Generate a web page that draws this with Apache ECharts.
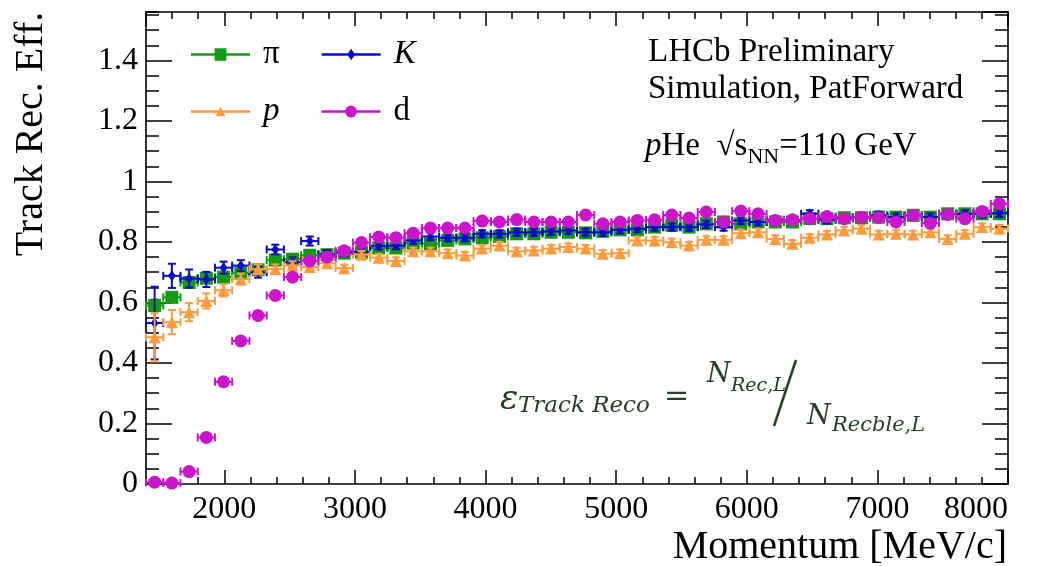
<!DOCTYPE html>
<html>
<head>
<meta charset="utf-8">
<script src="https://cdn.jsdelivr.net/npm/echarts@6/dist/echarts.min.js"></script>
<style>
  html, body { margin: 0; padding: 0; background: #fff; }
  #chart { width: 1045px; height: 566px; }
</style>
</head>
<body>
<div id="chart"></div>
<script>
// momentum bin centres [MeV/c], bins of 132 MeV/c from 1400 to 8000
const momentum = [1466, 1598, 1730, 1862, 1994, 2126, 2258, 2390, 2522, 2654,
  2786, 2918, 3050, 3182, 3314, 3446, 3578, 3710, 3842, 3974,
  4106, 4238, 4370, 4502, 4634, 4766, 4898, 5030, 5162, 5294,
  5426, 5558, 5690, 5822, 5954, 6086, 6218, 6350, 6482, 6614,
  6746, 6878, 7010, 7142, 7274, 7406, 7538, 7670, 7802, 7934];
const binHalfWidth = 66;

// pi
const effPi = [0.590, 0.617, 0.666, 0.680, 0.684, 0.698, 0.708, 0.740, 0.743, 0.756,
  0.758, 0.763, 0.766, 0.780, 0.780, 0.796, 0.794, 0.805, 0.810, 0.814,
  0.818, 0.827, 0.827, 0.832, 0.832, 0.830, 0.835, 0.840, 0.840, 0.849,
  0.855, 0.849, 0.860, 0.866, 0.860, 0.866, 0.866, 0.866, 0.877, 0.877,
  0.880, 0.880, 0.882, 0.882, 0.888, 0.882, 0.893, 0.893, 0.893, 0.893];
const errPi = [0.020, 0.015, 0.012, 0.012, 0.011, 0.010, 0.010, 0.010, 0.010, 0.010,
  0.010, 0.010, 0.010, 0.010, 0.010, 0.010, 0.010, 0.010, 0.010, 0.010,
  0.010, 0.010, 0.010, 0.010, 0.010, 0.010, 0.010, 0.010, 0.010, 0.010,
  0.010, 0.010, 0.010, 0.010, 0.010, 0.010, 0.010, 0.010, 0.010, 0.010,
  0.010, 0.010, 0.010, 0.010, 0.010, 0.010, 0.010, 0.010, 0.010, 0.010];

// K
const effK = [0.532, 0.688, 0.679, 0.676, 0.715, 0.722, 0.700, 0.775, 0.733, 0.803,
  0.759, 0.766, 0.768, 0.787, 0.788, 0.805, 0.818, 0.814, 0.814, 0.827,
  0.827, 0.832, 0.832, 0.835, 0.838, 0.832, 0.832, 0.840, 0.844, 0.849,
  0.849, 0.849, 0.858, 0.849, 0.871, 0.866, 0.873, 0.873, 0.893, 0.873,
  0.880, 0.882, 0.888, 0.882, 0.888, 0.882, 0.893, 0.893, 0.893, 0.895];
const errK = [0.120, 0.040, 0.030, 0.025, 0.020, 0.018, 0.018, 0.016, 0.016, 0.015,
  0.014, 0.013, 0.013, 0.012, 0.012, 0.012, 0.012, 0.012, 0.012, 0.012,
  0.012, 0.012, 0.012, 0.012, 0.012, 0.012, 0.012, 0.012, 0.012, 0.012,
  0.012, 0.012, 0.012, 0.012, 0.012, 0.012, 0.012, 0.012, 0.012, 0.012,
  0.012, 0.012, 0.012, 0.012, 0.012, 0.012, 0.012, 0.012, 0.012, 0.012];

// p
const effP = [0.485, 0.535, 0.568, 0.605, 0.640, 0.677, 0.710, 0.711, 0.722, 0.717,
  0.730, 0.713, 0.758, 0.748, 0.737, 0.769, 0.769, 0.763, 0.755, 0.778,
  0.788, 0.769, 0.772, 0.778, 0.783, 0.778, 0.761, 0.763, 0.805, 0.805,
  0.799, 0.788, 0.807, 0.807, 0.829, 0.832, 0.810, 0.794, 0.814, 0.825,
  0.838, 0.844, 0.825, 0.827, 0.825, 0.832, 0.810, 0.827, 0.849, 0.844];
const errP = [0.080, 0.040, 0.030, 0.025, 0.020, 0.018, 0.016, 0.015, 0.014, 0.013,
  0.013, 0.012, 0.012, 0.012, 0.012, 0.012, 0.012, 0.012, 0.012, 0.012,
  0.012, 0.012, 0.012, 0.012, 0.012, 0.012, 0.012, 0.012, 0.012, 0.012,
  0.012, 0.012, 0.012, 0.012, 0.012, 0.012, 0.012, 0.012, 0.012, 0.012,
  0.012, 0.012, 0.012, 0.012, 0.012, 0.012, 0.012, 0.012, 0.012, 0.012];

// d
const effD = [0.006, 0.003, 0.041, 0.154, 0.338, 0.473, 0.557, 0.623, 0.684, 0.737,
  0.750, 0.771, 0.798, 0.816, 0.814, 0.829, 0.846, 0.846, 0.846, 0.869,
  0.866, 0.874, 0.866, 0.866, 0.866, 0.889, 0.860, 0.866, 0.871, 0.873,
  0.889, 0.879, 0.899, 0.866, 0.902, 0.893, 0.871, 0.873, 0.877, 0.884,
  0.877, 0.882, 0.880, 0.866, 0.888, 0.862, 0.891, 0.877, 0.901, 0.926];
const errD = [0.004, 0.004, 0.006, 0.010, 0.012, 0.012, 0.012, 0.012, 0.012, 0.012,
  0.012, 0.012, 0.012, 0.012, 0.012, 0.012, 0.012, 0.012, 0.012, 0.012,
  0.012, 0.012, 0.012, 0.012, 0.012, 0.012, 0.012, 0.012, 0.012, 0.012,
  0.012, 0.012, 0.012, 0.012, 0.012, 0.012, 0.012, 0.012, 0.012, 0.012,
  0.012, 0.012, 0.012, 0.012, 0.012, 0.012, 0.012, 0.012, 0.012, 0.012];

const yTickLabels = ['0', '0.2', '0.4', '0.6', '0.8', '1', '1.2', '1.4'];

const SERIF = '"Liberation Serif", "Times New Roman", serif';
const MATH = '"DejaVu Serif", serif';
const formulaColor = '#243f26';

const particles = [
  { name: 'π', eff: effPi, err: errPi, color: '#139a13', symbol: 'rect', size: 13,
    icon: 'path://M0,6H60V8.5H0Z M24,1H36V13.5H24Z' },
  { name: 'K', eff: effK, err: errK, color: '#0b0bcc', symbol: 'diamond', size: [8, 11],
    icon: 'path://M0,6H60V8.5H0Z M30,1.5L34,7.2L30,13L26,7.2Z' },
  { name: 'p', eff: effP, err: errP, color: '#ff9b3d', symbol: 'triangle', size: 12,
    icon: 'path://M0,6H60V8.5H0Z M30,2.5L35,12H25Z' },
  { name: 'd', eff: effD, err: errD, color: '#cc14cc', symbol: 'circle', size: 13,
    icon: 'path://M0,6H60V8.5H0Z M24,7.2A6,6 0 1 1 36,7.2A6,6 0 1 1 24,7.2Z' }
];

function errorBars(color) {
  return function (params, api) {
    const x = api.value(0), y = api.value(1), e = api.value(2);
    const l = api.coord([x - binHalfWidth, y]);
    const r = api.coord([x + binHalfWidth, y]);
    const t = api.coord([x, y + e]);
    const b = api.coord([x, y - e]);
    const cap = 4;
    const style = { stroke: color, lineWidth: 2 };
    const seg = (x1, y1, x2, y2) => ({ type: 'line', shape: { x1, y1, x2, y2 }, style });
    return {
      type: 'group',
      children: [
        seg(l[0], l[1], r[0], r[1]),
        seg(l[0], l[1] - cap, l[0], l[1] + cap),
        seg(r[0], r[1] - cap, r[0], r[1] + cap),
        seg(t[0], t[1], b[0], b[1]),
        seg(t[0] - cap, t[1], t[0] + cap, t[1]),
        seg(b[0] - cap, b[1], b[0] + cap, b[1])
      ]
    };
  };
}

const series = [];
particles.forEach((pt, k) => {
  series.push({
    name: pt.name,
    type: 'custom',
    renderItem: errorBars(pt.color),
    itemStyle: { color: pt.color },
    data: momentum.map((m, i) => [m, pt.eff[i], pt.err[i]]),
    encode: { x: 0, y: 1 },
    z: 2 + k * 2,
    silent: true
  });
  series.push({
    name: pt.name,
    type: 'scatter',
    symbol: pt.symbol,
    symbolSize: pt.size,
    itemStyle: { color: pt.color, opacity: 1 },
    data: momentum.map((m, i) => [m, pt.eff[i]]),
    z: 3 + k * 2,
    silent: true
  });
});

const black = '#000';
const xMajor = (pos, labels) => ({
  type: 'value', position: pos, min: 1400, max: 8000, splitNumber: 6,
  axisLine: { show: true, onZero: false, lineStyle: { color: black, width: 1.6 } },
  axisTick: { show: true, inside: true, length: 14, lineStyle: { color: black, width: 1.5 } },
  axisLabel: labels ? {
    show: true, color: black, fontFamily: SERIF, fontSize: 32, margin: 10,
    showMinLabel: false, alignMaxLabel: 'right',
    formatter: (v) => String(v)
  } : { show: false },
  splitLine: { show: false }
});
const xMinor = (pos) => ({
  type: 'value', position: pos, min: 1400, max: 8000, interval: 200,
  axisLine: { show: false, onZero: false },
  axisTick: { show: true, inside: true, length: 7, lineStyle: { color: black, width: 1.5 } },
  axisLabel: { show: false },
  splitLine: { show: false }
});
const yMajor = (pos, labels) => ({
  type: 'value', position: pos, min: 0, max: 1.56, interval: 0.2,
  axisLine: { show: true, onZero: false, lineStyle: { color: black, width: 1.6 } },
  axisTick: { show: true, inside: true, length: 26, lineStyle: { color: black, width: 1.5 } },
  axisLabel: labels ? {
    show: true, color: black, fontFamily: SERIF, fontSize: 32, margin: 8,
    showMaxLabel: false,
    formatter: (v) => yTickLabels[Math.round(v / 0.2)] || ''
  } : { show: false },
  splitLine: { show: false }
});
const yMinor = (pos) => ({
  type: 'value', position: pos, min: 0, max: 1.56, interval: 0.05,
  axisLine: { show: false, onZero: false },
  axisTick: { show: true, inside: true, length: 13, lineStyle: { color: black, width: 1.5 } },
  axisLabel: { show: false },
  splitLine: { show: false }
});

const legendCommon = {
  left: 191, padding: 0, itemWidth: 59, itemHeight: 13, itemGap: 42,
  selectedMode: false, orient: 'horizontal',
  formatter: (name) => (name === 'K' || name === 'p') ? '{it|' + name + '}' : '{up|' + name + '}',
  textStyle: {
    color: black,
    rich: {
      it: { fontFamily: SERIF, fontStyle: 'italic', fontSize: 33, color: black, padding: [0, 0, 0, 8] },
      up: { fontFamily: SERIF, fontSize: 33, color: black, padding: [0, 0, 0, 8] }
    }
  }
};
const legendItem = (pt) => ({ name: pt.name, icon: pt.icon, itemStyle: { color: pt.color } });

const txt = (x, y, text, font, extra) => ({
  type: 'text', x, y, silent: true,
  style: Object.assign({ text, font, fill: black, align: 'left', verticalAlign: 'middle' }, extra || {})
});

const chart = echarts.init(document.getElementById('chart'));
chart.setOption({
  animation: false,
  backgroundColor: '#fff',
  grid: { left: 146, right: 37, top: 12, bottom: 82, show: false },
  xAxis: [xMajor('bottom', true), xMinor('bottom'), xMajor('top', false), xMinor('top')],
  yAxis: [yMajor('left', true), yMinor('left'), yMajor('right', false), yMinor('right')],
  legend: [
    Object.assign({}, legendCommon, { top: 38, data: [legendItem(particles[0]), legendItem(particles[1])] }),
    Object.assign({}, legendCommon, { top: 95, data: [legendItem(particles[2]), legendItem(particles[3])] })
  ],
  graphic: [
    Object.assign(txt(31, 134, 'Track Rec. Eff.', '40px ' + SERIF, { align: 'center' }), { rotation: Math.PI / 2 }),
    txt(1007, 547, 'Momentum [MeV/c]', '40px ' + SERIF, { align: 'right' }),
    txt(648, 52, 'LHCb Preliminary', '33px ' + SERIF),
    txt(648, 89, 'Simulation, PatForward', '33px ' + SERIF),
    {
      type: 'text', x: 645, y: 146, silent: true,
      style: {
        text: '{i|p}{n|He  √s}{s|NN}{n|=110 GeV}',
        verticalAlign: 'middle', align: 'left',
        rich: {
          i: { fontFamily: SERIF, fontStyle: 'italic', fontSize: 33, lineHeight: 44, color: black },
          n: { fontFamily: SERIF, fontSize: 33, lineHeight: 44, color: black },
          s: { fontFamily: SERIF, fontSize: 22, verticalAlign: 'bottom', color: black }
        }
      }
    },
    txt(500, 400, 'ε', 'italic 34px ' + MATH, { fill: formulaColor }),
    txt(518, 406, 'Track Reco', 'italic 23px ' + MATH, { fill: formulaColor }),
    txt(664, 397, '=', '30px ' + MATH, { fill: formulaColor }),
    txt(707, 375, 'N', 'italic 27px ' + MATH, { fill: formulaColor }),
    txt(731, 386, 'Rec,L', 'italic 19px ' + MATH, { fill: formulaColor }),
    { type: 'line', silent: true, shape: { x1: 796, y1: 360, x2: 774, y2: 426 },
      style: { stroke: formulaColor, lineWidth: 2.5 } },
    txt(807, 417, 'N', 'italic 27px ' + MATH, { fill: formulaColor }),
    txt(832, 426, 'Recble,L', 'italic 21px ' + MATH, { fill: formulaColor })
  ],
  series: series
});
</script>
</body>
</html>
